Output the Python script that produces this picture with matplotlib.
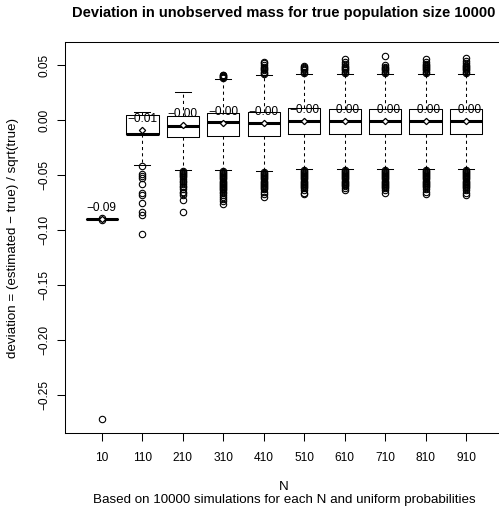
import matplotlib
matplotlib.use("Agg")
import matplotlib.pyplot as plt

plt.rcParams['font.family'] = ['Liberation Sans', 'DejaVu Sans']

# ---- data ----
N_labels = ["10", "110", "210", "310", "410", "510", "610", "710", "810", "910"]
q1 = [-0.0900, -0.0127, -0.0150, -0.0145, -0.0143, -0.0127, -0.0127, -0.0127, -0.0127, -0.0127]
med = [-0.0900, -0.0127, -0.0055, -0.0020, -0.0024, -0.0012, -0.0012, -0.0012, -0.0012, -0.0012]
q3 = [-0.0900, 0.0045, 0.0040, 0.0063, 0.0075, 0.0110, 0.0098, 0.0098, 0.0098, 0.0098]
whislo = [-0.0900, -0.0410, -0.0450, -0.0450, -0.0460, -0.0445, -0.0445, -0.0445, -0.0445, -0.0445]
whishi = [-0.0900, 0.0070, 0.0250, 0.0370, 0.0410, 0.0420, 0.0420, 0.0420, 0.0420, 0.0420]
means = [-0.0900, -0.0090, -0.0048, -0.0030, -0.0025, -0.0010, -0.0010, -0.0010, -0.0010, -0.0010]

fliers_10 = [-0.0905, -0.0895, -0.272]
fliers_110 = [-0.0415, -0.049, -0.051, -0.053, -0.058, -0.066, -0.068, -0.075, -0.084, -0.086, -0.104]
fliers_210 = [-0.046, -0.047, -0.048, -0.049, -0.050, -0.051, -0.052, -0.054, -0.055, -0.056,
              -0.058, -0.060, -0.061, -0.063, -0.065, -0.066, -0.068, -0.073, -0.084]
fliers_310 = [0.0385, 0.039, 0.0395, 0.040, 0.0405, 0.041,
              -0.046, -0.047, -0.048, -0.049, -0.050, -0.051, -0.052, -0.053, -0.054, -0.055,
              -0.056, -0.057, -0.058, -0.059, -0.060, -0.061, -0.062, -0.063, -0.064, -0.065,
              -0.066, -0.068, -0.070, -0.072, -0.074, -0.076]
fliers_410 = [0.042, 0.043, 0.044, 0.045, 0.046, 0.047, 0.048, 0.050, 0.052, 0.053,
              -0.047, -0.048, -0.049, -0.050, -0.051, -0.052, -0.053, -0.054, -0.055, -0.056,
              -0.057, -0.058, -0.059, -0.060, -0.061, -0.062, -0.063, -0.065, -0.067, -0.070]
fliers_510 = [0.043, 0.044, 0.045, 0.046, 0.047, 0.048, 0.049,
              -0.045, -0.046, -0.047, -0.048, -0.049, -0.050, -0.051, -0.052, -0.053, -0.054,
              -0.055, -0.056, -0.057, -0.058, -0.059, -0.060, -0.061, -0.062, -0.064, -0.066, -0.067]
fliers_610 = [0.043, 0.044, 0.045, 0.046, 0.047, 0.048, 0.049, 0.051, 0.053, 0.055,
              -0.045, -0.046, -0.047, -0.048, -0.049, -0.050, -0.051, -0.052, -0.053, -0.054,
              -0.055, -0.056, -0.057, -0.058, -0.059, -0.060, -0.062, -0.064]
fliers_710 = [0.043, 0.044, 0.045, 0.046, 0.047, 0.048, 0.050, 0.058,
              -0.045, -0.046, -0.047, -0.048, -0.049, -0.050, -0.051, -0.052, -0.053, -0.054,
              -0.055, -0.056, -0.057, -0.058, -0.059, -0.060, -0.061, -0.062, -0.064, -0.066]
fliers_810 = [0.043, 0.044, 0.045, 0.046, 0.047, 0.048, 0.049, 0.050, 0.051, 0.053, 0.055,
              -0.045, -0.046, -0.047, -0.048, -0.049, -0.050, -0.051, -0.052, -0.053, -0.054,
              -0.055, -0.056, -0.057, -0.058, -0.059, -0.060, -0.061, -0.063, -0.065, -0.067]
fliers_910 = [0.043, 0.044, 0.045, 0.046, 0.047, 0.048, 0.049, 0.050, 0.052, 0.054, 0.056,
              -0.045, -0.046, -0.047, -0.048, -0.049, -0.050, -0.051, -0.052, -0.053, -0.054,
              -0.055, -0.056, -0.057, -0.058, -0.059, -0.060, -0.061, -0.062, -0.064, -0.066, -0.068]
fliers = [fliers_10, fliers_110, fliers_210, fliers_310, fliers_410,
          fliers_510, fliers_610, fliers_710, fliers_810, fliers_910]

yticks = [-0.25, -0.20, -0.15, -0.10, -0.05, 0.00, 0.05]

title = "Deviation in unobserved mass for true population size 10000"
ylabel = "deviation = (estimated \u2212 true) / sqrt(true)"
xlabel = "N"
subtitle = "Based on 10000 simulations for each N and uniform probabilities"

# ---- figure ----
W, H = 499, 512
fig = plt.figure(figsize=(W / 100, H / 100), dpi=100)
ax = fig.add_axes([65 / W, (H - 433) / H, (503 - 65) / W, (433 - 42) / H])

stats = []
for i in range(len(N_labels)):
    stats.append(dict(med=med[i], q1=q1[i], q3=q3[i], whislo=whislo[i], whishi=whishi[i],
                      fliers=fliers[i], mean=means[i], label=N_labels[i]))

positions = list(range(1, len(N_labels) + 1))
lw = 0.75
ax.bxp(stats, positions=positions, widths=0.8, capwidths=0.4, showmeans=True,
       boxprops=dict(color="black", linewidth=lw),
       whiskerprops=dict(color="black", linewidth=lw, linestyle=(0, (3, 3))),
       capprops=dict(color="black", linewidth=lw),
       medianprops=dict(color="black", linewidth=2.2, solid_capstyle="butt"),
       flierprops=dict(marker="o", markersize=4.6, markerfacecolor="none",
                       markeredgecolor="black", markeredgewidth=0.8),
       meanprops=dict(marker="D", markersize=3.2, markerfacecolor="white",
                      markeredgecolor="black", markeredgewidth=0.9))

for p, m in zip(positions, means):
    ax.text(p, m + 0.01, f"{m:.2f}".replace("-", "\u2212"), ha="center", va="center",
            fontsize=8.6, color="black")

ax.set_xlim(0.09, 10.91)
ax.set_ylim(-0.2845, 0.0709)
ax.set_xticks(positions)
ax.set_xticklabels(N_labels)
ax.set_yticks(yticks)
ax.set_yticklabels([f"{v:.2f}".replace("-", "\u2212") for v in yticks], rotation=90, va="center")
ax.tick_params(axis="both", direction="out", length=5.8, width=0.75, labelsize=8.6, color="black")
ax.tick_params(axis="x", pad=8)
ax.tick_params(axis="y", pad=5)
for s in ax.spines.values():
    s.set_linewidth(0.75)
    s.set_color("black")

fig.text(284 / W, 1 - 13 / H, title, ha="center", va="center", fontsize=10.5, fontweight="bold")
fig.text(284 / W, 1 - 487 / H, xlabel, ha="center", va="center", fontsize=9.6)
fig.text(284 / W, 1 - 500 / H, subtitle, ha="center", va="center", fontsize=9.6)
fig.text(13 / W, 1 - 238 / H, ylabel, ha="center", va="center", rotation=90, fontsize=9.6)

fig.savefig("out.png", dpi=100)
